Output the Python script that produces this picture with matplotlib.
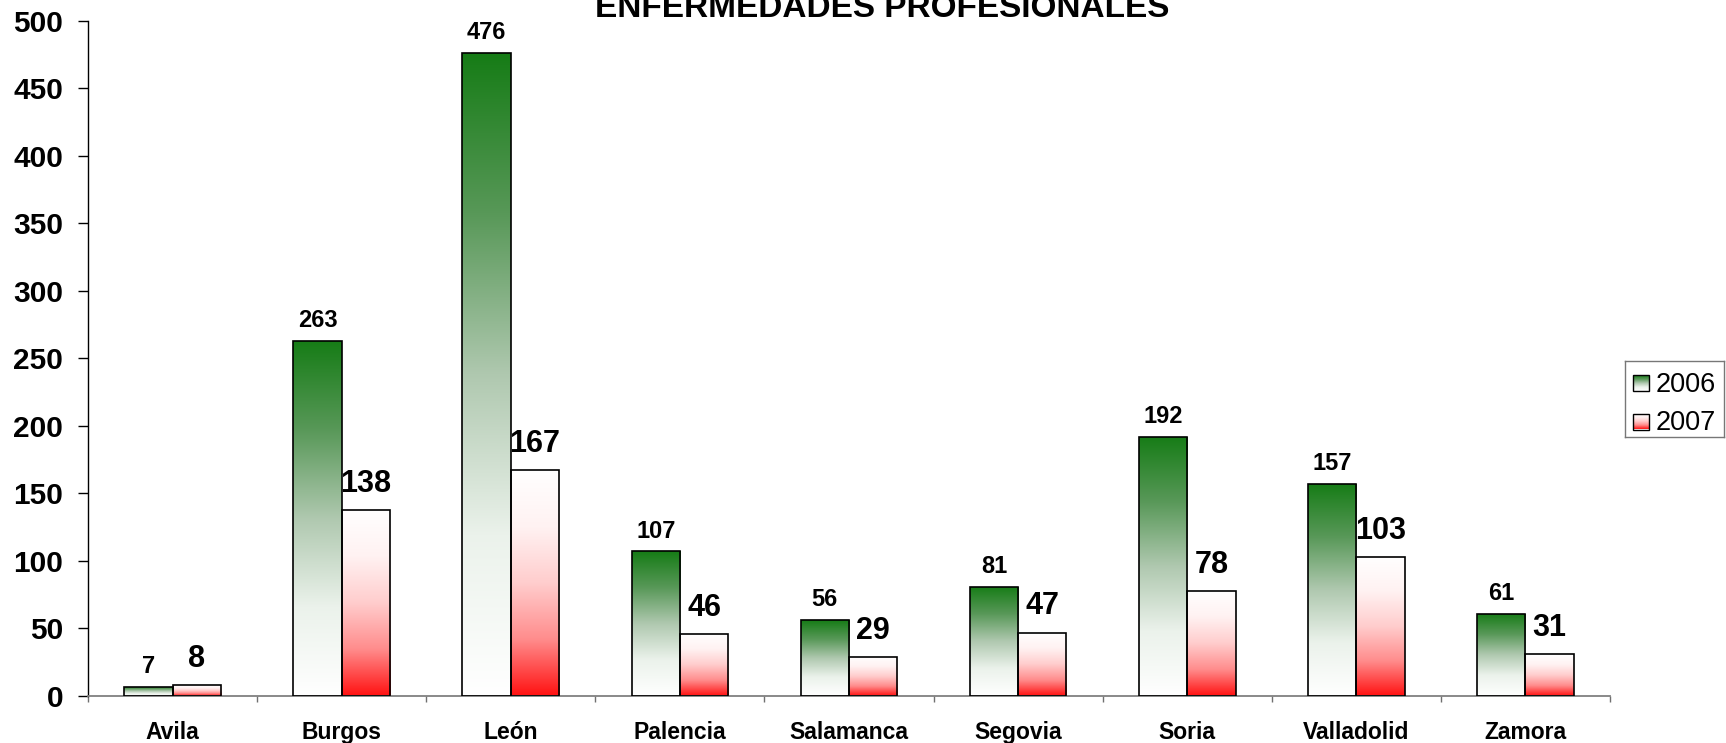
import numpy as np
import matplotlib
matplotlib.use("Agg")
import matplotlib.pyplot as plt
from matplotlib.colors import LinearSegmentedColormap
from matplotlib.patches import Rectangle

plt.rcParams['font.family'] = ['Liberation Sans', 'DejaVu Sans']

# ---- data ----
title = "ENFERMEDADES PROFESIONALES"
categories = ["Avila", "Burgos", "León", "Palencia", "Salamanca",
              "Segovia", "Soria", "Valladolid", "Zamora"]
series = ["2006", "2007"]
values_2006 = [7, 263, 476, 107, 56, 81, 192, 157, 61]
values_2007 = [8, 138, 167, 46, 29, 47, 78, 103, 31]
yticks = list(range(0, 501, 50))

# ---- gradients (value 0 = bottom of bar, 1 = top) ----
green_cmap = LinearSegmentedColormap.from_list("g", [
    (0.0, (1.0, 1.0, 1.0)),
    (0.25, (235/255, 242/255, 235/255)),
    (0.5, (175/255, 200/255, 175/255)),
    (0.75, (88/255, 152/255, 88/255)),
    (1.0, (22/255, 124/255, 22/255)),
])
red_cmap = LinearSegmentedColormap.from_list("r", [
    (0.0, (1.0, 18/255, 18/255)),
    (0.25, (1.0, 140/255, 140/255)),
    (0.5, (1.0, 205/255, 205/255)),
    (0.75, (1.0, 242/255, 242/255)),
    (1.0, (1.0, 1.0, 1.0)),
])
grad = np.linspace(0, 1, 256).reshape(-1, 1)

W, H = 1726, 743
fig = plt.figure(figsize=(W/100, H/100), dpi=100)
ax = fig.add_axes([88/W, 1 - 696/H, (1610-88)/W, (696-20.5)/H])

n = len(categories)
x = np.arange(n)
bw = 1/3.5

def draw_series(vals, offset, cmap, label_size, label_gap):
    bars = ax.bar(x + offset, vals, width=bw, facecolor='none',
                  edgecolor='black', linewidth=1.2, zorder=3)
    for rect, v in zip(bars, vals):
        x0, w, h = rect.get_x(), rect.get_width(), rect.get_height()
        im = ax.imshow(grad, cmap=cmap, origin='lower', aspect='auto',
                       extent=(x0, x0 + w, 0, h), zorder=2,
                       interpolation='bilinear')
        im.set_clip_path(rect)
        ax.annotate(str(v), (x0 + w/2, h), xytext=(0, label_gap),
                    textcoords='offset points', ha='center', va='baseline',
                    fontsize=label_size, fontweight='bold', zorder=4)

draw_series(values_2006, -bw/2, green_cmap, 17, 10)
draw_series(values_2007, bw/2, red_cmap, 22, 13)

ax.set_xlim(-0.5, n - 0.5)
ax.set_ylim(0, 500)
ax.set_yticks(yticks)
ax.set_yticklabels([str(t) for t in yticks], fontsize=21.5, fontweight='bold')
ax.tick_params(axis='y', direction='out', length=7, width=1, color='black', pad=11)

ax.set_xticks(x)
ax.set_xticklabels(categories, fontsize=16.5, fontweight='bold')
ax.set_xticks(np.arange(-0.5, n, 1.0), minor=True)
ax.tick_params(axis='x', which='major', length=0, pad=18)
ax.tick_params(axis='x', which='minor', direction='out', length=4.5, width=1, color='#707070')

for s in ['top', 'right']:
    ax.spines[s].set_visible(False)
ax.spines['left'].set_color('black')
ax.spines['left'].set_linewidth(1)
ax.spines['bottom'].set_color('#808080')
ax.spines['bottom'].set_linewidth(1.3)

fig.text(882/W, 1 - 16.7/H, title, ha='center', va='baseline',
         fontsize=24, fontweight='bold')

# ---- legend (manual, with gradient swatches) ----
lx0, ly0, lw, lh = 1625, 361, 99, 76
lax = fig.add_axes([lx0/W, 1 - (ly0 + lh)/H, lw/W, lh/H])
lax.set_xticks([])
lax.set_yticks([])
for s in lax.spines.values():
    s.set_color('#777777')
    s.set_linewidth(1)
for i, (lab, cmap) in enumerate(zip(series, [green_cmap, red_cmap])):
    top = 14 + i * 38.5
    sq = 16
    lax.imshow(grad, cmap=cmap, origin='lower', aspect='auto',
               extent=(8, 8 + sq, top + sq, top), zorder=2)
    lax.add_patch(Rectangle((8, top), sq, sq, facecolor='none',
                            edgecolor='black', linewidth=1, zorder=3))
    lax.text(31, top + sq + 0.5, lab, fontsize=19.5, va='baseline', ha='left')
lax.set_xlim(0, lw)
lax.set_ylim(lh, 0)

fig.savefig("out.png", dpi=100)
